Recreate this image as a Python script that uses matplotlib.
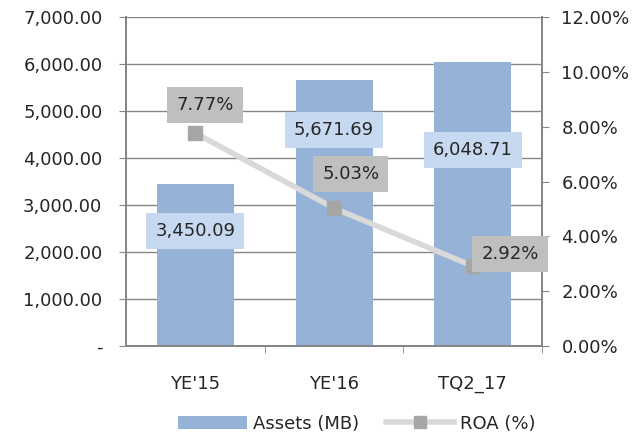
import matplotlib.pyplot as plt
from matplotlib.lines import Line2D
from matplotlib.patches import Patch
from matplotlib.ticker import FuncFormatter, FixedLocator

categories = ["YE'15", "YE'16", "TQ2_17"]
assets = [3450.09, 5671.69, 6048.71]
roa = [7.77, 5.03, 2.92]

bar_color = '#95B3D7'
line_color = '#D9D9D9'
marker_color = '#A6A6A6'
grid_color = '#868686'
txt_color = '#262626'
fs = 13

plt.rcParams['font.family'] = 'DejaVu Sans'

fig = plt.figure(figsize=(6.43, 4.40), dpi=100)
ax = fig.add_axes([0.196, 0.2136, 0.647, 0.7474])
ax2 = ax.twinx()

x = list(range(len(categories)))
ax.bar(x, assets, width=0.555, color=bar_color, zorder=2)
ax.set_xlim(-0.5, 2.5)
ax.set_ylim(0, 7000)
ax.set_yticks(range(0, 7001, 1000))
ax.yaxis.set_major_formatter(FuncFormatter(lambda v, p: '-' if v == 0 else f'{v:,.2f}'))
ax.grid(axis='y', color=grid_color, linewidth=1, zorder=0)
ax.set_axisbelow(True)

ax.set_xticks(x)
ax.set_xticklabels(categories)
ax.xaxis.set_minor_locator(FixedLocator([0.5, 1.5, 2.5]))
ax.tick_params(axis='x', which='major', length=0, pad=21, labelsize=fs, labelcolor=txt_color)
ax.tick_params(axis='x', which='minor', length=5, color=grid_color, direction='out')
ax.tick_params(axis='y', length=5, color=grid_color, labelsize=fs, labelcolor=txt_color, pad=12)

ax2.plot(x, roa, color=line_color, linewidth=4, marker='s', markersize=10.5,
         markerfacecolor=marker_color, markeredgecolor=marker_color, zorder=3)
ax2.set_ylim(0, 12)
ax2.set_yticks(range(0, 13, 2))
ax2.yaxis.set_major_formatter(FuncFormatter(lambda v, p: f'{v:.2f}%'))
ax2.tick_params(axis='y', length=5, color=grid_color, labelsize=fs, labelcolor=txt_color, pad=9)

for a in (ax, ax2):
    for s in a.spines.values():
        s.set_color(grid_color)
        s.set_linewidth(1.3)
    a.spines['top'].set_visible(False)

# value labels
bar_label_pos = [(0.0, 2450), (1.0, 4600), (2.0, 4170)]
for (lx, ly), v in zip(bar_label_pos, assets):
    ax.text(lx, ly, f'{v:,.2f}', ha='center', va='center', fontsize=fs, color=txt_color,
            zorder=5, bbox=dict(boxstyle='square,pad=0.5', facecolor='#C6D9F1', edgecolor='none'))

roa_label_pos = [(0.07, 8.79), (1.12, 6.27), (2.27, 3.36)]
for (lx, ly), v in zip(roa_label_pos, roa):
    ax2.text(lx, ly, f'{v:.2f}%', ha='center', va='center', fontsize=fs, color=txt_color,
             zorder=5, bbox=dict(boxstyle='square,pad=0.5', facecolor='#BFBFBF', edgecolor='none'))

handles = [Patch(facecolor=bar_color, edgecolor='none'),
           Line2D([0], [0], color=line_color, linewidth=4, marker='s', markersize=9,
                  markerfacecolor=marker_color, markeredgecolor=marker_color)]
fig.legend(handles, ['Assets (MB)', 'ROA (%)'], loc='lower center', bbox_to_anchor=(0.555, -0.02),
           ncol=2, frameon=False, fontsize=fs, handlelength=3.8, handletextpad=0.3,
           columnspacing=1.5, labelcolor=txt_color)

fig.savefig('out.png', dpi=100)
